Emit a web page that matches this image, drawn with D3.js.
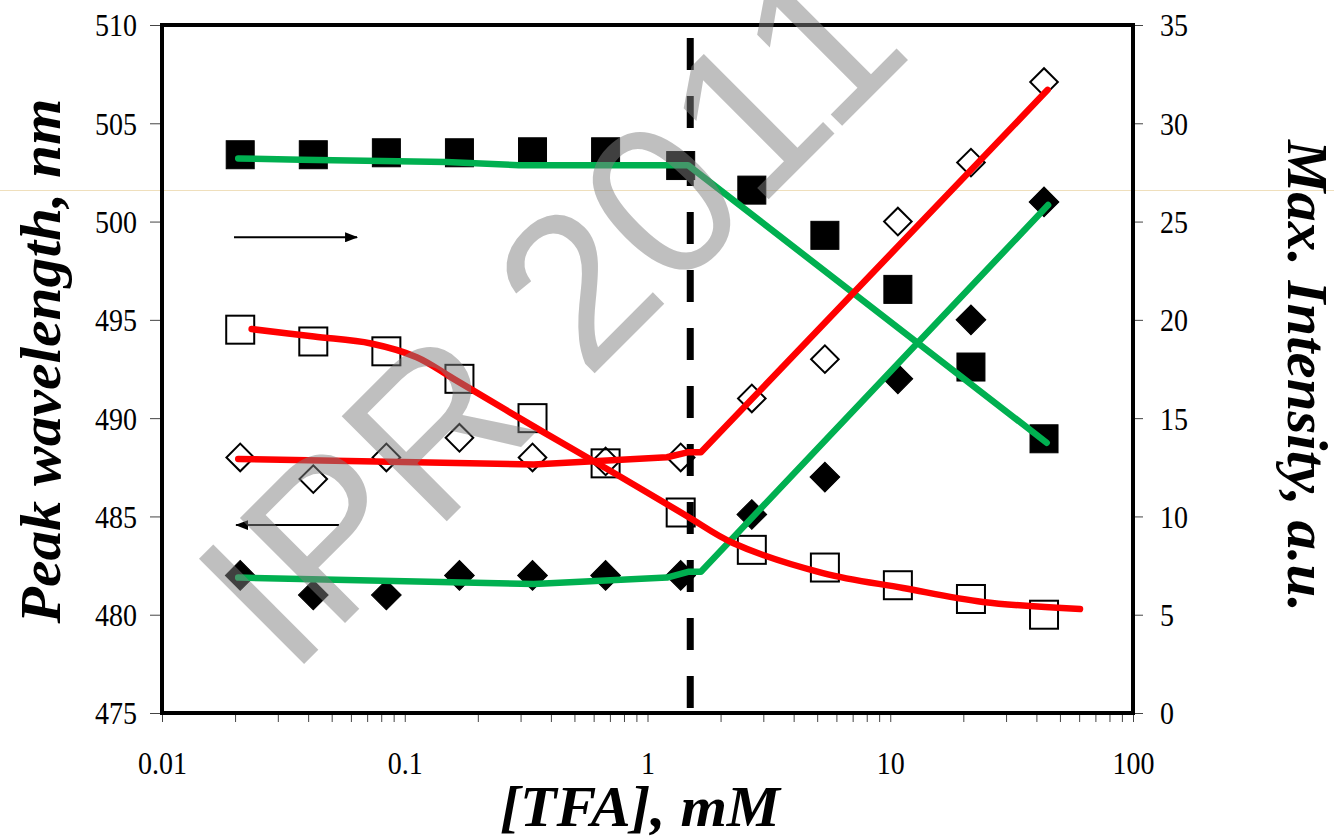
<!DOCTYPE html>
<html>
<head>
<meta charset="utf-8">
<style>
body { margin: 0; background: #fff; }
text { font-family: "Liberation Serif", "Times New Roman", serif; fill: #000; }
.tick line { stroke: #444; stroke-width: 1px; }
.tick text { font-size: 28px; }
.title { font-size: 56px; font-weight: bold; font-style: italic; }
</style>
</head>
<body>
<script src="https://cdn.jsdelivr.net/npm/d3@7"></script>
<script>

// [TFA], mM
var conc = [0.021, 0.042, 0.084, 0.168, 0.336, 0.672, 1.37, 2.69, 5.38, 10.75, 21.5, 43];

// peak wavelength, nm (left axis)
var openDiamond   = [488.0, 486.9, 488.0, 489.0, 488.0, 487.8, 488.0, 491.0, 493.0, 500.0, 503.0, 507.1];
var filledDiamond = [482.0, 481.0, 481.0, 482.0, 482.0, 482.0, 482.0, 485.1, 487.0, 492.0, 495.0, 501.0];

// max. intensity, a.u. (right axis)
var openSquare   = [19.5, 18.9, 18.4, 17.0, 15.0, 12.7, 10.2, 8.3, 7.4, 6.5, 5.8, 5.0];
var filledSquare = [28.4, 28.4, 28.5, 28.5, 28.55, 28.55, 27.85, 26.6, 24.3, 21.55, 17.6, 13.95];

// fitted curves [conc, value]
var redDiamondFit   = [[0.0206, 487.92], [0.34, 487.64], [1.203, 488.01], [1.46, 488.26], [1.66, 488.26], [44.5, 506.7]];
var greenDiamondFit = [[0.0206, 481.89], [0.34, 481.56], [1.203, 481.89], [1.483, 482.19], [1.66, 482.19], [44.7, 500.84]];
var greenSquareFit  = [[0.0206, 28.21], [0.0374, 28.15], [0.148, 28.03], [0.2955, 27.87], [1.468, 27.87], [44.1, 13.75]];
var redSquareFit    = [[0.0234, 19.53], [0.0423, 19.15], [0.0726, 18.8], [0.112, 18.1], [0.159, 17.0], [0.371, 14.3],
                       [0.728, 12.21], [1.44, 10.05], [2.25, 8.65], [5.28, 7.12], [11.3, 6.36], [24.1, 5.65], [60.5, 5.29]];

var breakConc = 1.5;

var arrows = [
  {axis: "right", from: [0.0198, 24.2], to: [0.0636, 24.2]},
  {axis: "left",  from: [0.0536, 484.56], to: [0.0202, 484.56]}
];

var xDecades = [0.01, 0.1, 1, 10, 100];
var leftTicks = d3.range(475, 511, 5);
var rightTicks = d3.range(0, 36, 5);

var width = 1334, height = 837;
var plotL = 162, plotR = 1133, plotT = 25, plotB = 713;
var stretch = 1.15;   // tick labels in the original are drawn a bit taller than wide

var svg = d3.select("body").append("svg")
    .attr("width", width)
    .attr("height", height);

var x = d3.scaleLog().domain([0.01, 100]).range([plotL, plotR]);
var yL = d3.scaleLinear().domain([475, 510]).range([plotB, plotT]);
var yR = d3.scaleLinear().domain([0, 35]).range([plotB, plotT]);

// faint scan line across the picture
svg.append("line")
    .attr("x1", 0).attr("x2", width)
    .attr("y1", 190.5).attr("y2", 190.5)
    .style("stroke", "#efdfbc")
    .style("stroke-width", 1);

// axes
var xTicks = [];
xDecades.slice(0, 4).forEach(function(d) {
  for (var i = 1; i < 10; i++) xTicks.push(d * i);
});
xTicks.push(100);

var gx = svg.append("g")
    .attr("transform", "translate(0," + plotB + ")")
    .call(d3.axisBottom(x)
      .tickValues(xTicks)
      .tickSize(9)
      .tickFormat(function(d) { return xDecades.indexOf(d) >= 0 ? d3.format("~g")(d) : ""; }));
gx.select(".domain").remove();
gx.selectAll("text")
    .attr("y", 61 / stretch).attr("dy", 0)
    .attr("transform", "scale(1," + stretch + ")");

var gl = svg.append("g")
    .attr("transform", "translate(" + plotL + ",0)")
    .call(d3.axisLeft(yL).tickValues(leftTicks).tickSize(12).tickPadding(13));
gl.select(".domain").remove();
gl.selectAll("text")
    .attr("dy", "0.34em")
    .attr("transform", "scale(1," + stretch + ")");

var gr = svg.append("g")
    .attr("transform", "translate(" + plotR + ",0)")
    .call(d3.axisRight(yR).tickValues(rightTicks).tickSize(10).tickPadding(17));
gr.select(".domain").remove();
gr.selectAll("text")
    .attr("dy", "0.34em")
    .attr("transform", "scale(1," + stretch + ")");

// dashed break line
svg.append("line")
    .attr("x1", x(breakConc)).attr("x2", x(breakConc))
    .attr("y1", plotT).attr("y2", plotB)
    .style("stroke", "#000")
    .style("stroke-width", 7)
    .style("stroke-dasharray", "32,26")
    .style("stroke-dashoffset", 45);

// markers
function squares(values, scale, filled) {
  svg.append("g").selectAll("rect")
    .data(values)
    .enter().append("rect")
    .attr("x", function(d, i) { return x(conc[i]) - 14; })
    .attr("y", function(d) { return scale(d) - 14; })
    .attr("width", 28)
    .attr("height", 28)
    .style("fill", filled ? "#000" : "none")
    .style("stroke", "#000")
    .style("stroke-width", filled ? 1 : 2);
}

function diamonds(values, scale, filled) {
  var s = filled ? 21 : 19.5;
  svg.append("g").selectAll("rect")
    .data(values)
    .enter().append("rect")
    .attr("x", -s / 2)
    .attr("y", -s / 2)
    .attr("width", s)
    .attr("height", s)
    .attr("transform", function(d, i) {
      return "translate(" + x(conc[i]) + "," + scale(d) + ") rotate(45)";
    })
    .style("fill", filled ? "#000" : "none")
    .style("stroke", "#000")
    .style("stroke-width", filled ? 1 : 2);
}

squares(filledSquare, yR, true);
squares(openSquare, yR, false);
diamonds(openDiamond, yL, false);
diamonds(filledDiamond, yL, true);

// fitted lines
function fit(points, scale, color, curve) {
  var line = d3.line()
      .x(function(d) { return x(d[0]); })
      .y(function(d) { return scale(d[1]); })
      .curve(curve);
  svg.append("path")
      .attr("d", line(points))
      .style("fill", "none")
      .style("stroke", color)
      .style("stroke-width", 6.5)
      .style("stroke-linejoin", "round")
      .style("stroke-linecap", "round");
}

fit(greenSquareFit, yR, "#00b050", d3.curveLinear);
fit(greenDiamondFit, yL, "#00b050", d3.curveLinear);
fit(redDiamondFit, yL, "#ff0000", d3.curveLinear);
fit(redSquareFit, yR, "#ff0000", d3.curveCatmullRom.alpha(0.5));

// axis arrows
svg.append("defs").append("marker")
    .attr("id", "head")
    .attr("markerUnits", "userSpaceOnUse")
    .attr("markerWidth", 14).attr("markerHeight", 10)
    .attr("refX", 12).attr("refY", 5)
    .attr("orient", "auto")
  .append("path")
    .attr("d", "M0,0 L13,5 L0,10 Z")
    .style("fill", "#000");

arrows.forEach(function(a) {
  var sc = a.axis == "left" ? yL : yR;
  svg.append("line")
      .attr("x1", x(a.from[0])).attr("y1", sc(a.from[1]))
      .attr("x2", x(a.to[0])).attr("y2", sc(a.to[1]))
      .style("stroke", "#000")
      .style("stroke-width", 2)
      .attr("marker-end", "url(#head)");
});

// frame
svg.append("rect")
    .attr("x", plotL).attr("y", plotT)
    .attr("width", plotR - plotL).attr("height", plotB - plotT)
    .style("fill", "none")
    .style("stroke", "#000")
    .style("stroke-width", 4);

// titles
svg.append("text")
    .attr("class", "title")
    .attr("transform", "translate(60,361) rotate(-90)")
    .attr("text-anchor", "middle")
    .attr("textLength", 525)
    .attr("lengthAdjust", "spacingAndGlyphs")
    .text("Peak wavelength, nm");

svg.append("text")
    .attr("class", "title")
    .attr("transform", "translate(1288,376) rotate(90)")
    .attr("text-anchor", "middle")
    .attr("textLength", 472)
    .attr("lengthAdjust", "spacingAndGlyphs")
    .text("Max. Intensity, a.u.");

svg.append("text")
    .attr("class", "title")
    .attr("x", 640).attr("y", 826)
    .attr("text-anchor", "middle")
    .attr("textLength", 280)
    .attr("lengthAdjust", "spacingAndGlyphs")
    .text("[TFA], mM");

// watermark
svg.append("text")
    .attr("transform", "translate(290,678) rotate(-45)")
    .style("font-family", "'Liberation Sans', Arial, sans-serif")
    .style("font-size", "216px")
    .style("fill", "#808080")
    .style("fill-opacity", 0.5)
    .text("IPR 2011");

</script>
</body>
</html>
